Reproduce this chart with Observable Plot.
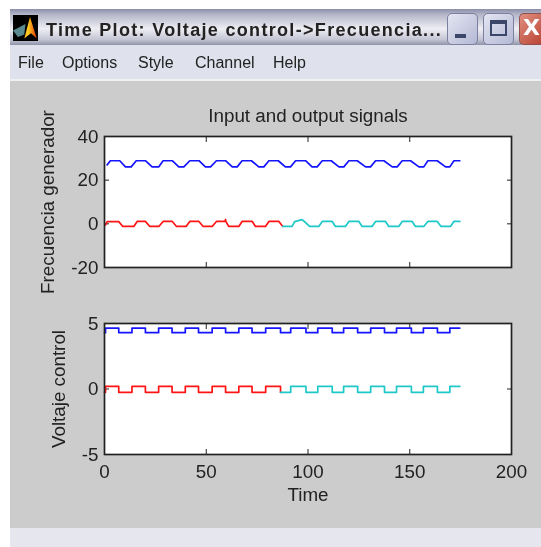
<!DOCTYPE html>
<html><head><meta charset="utf-8">
<script src="https://cdn.jsdelivr.net/npm/d3@7"></script>
<script src="https://cdn.jsdelivr.net/npm/@observablehq/plot@0.6"></script>
<style>
html,body{margin:0;padding:0;background:#fff;width:541px;height:547px;overflow:hidden}
#win{position:absolute;left:10px;top:0;width:531px;height:547px;overflow:hidden;filter:blur(.35px)}
#bar{position:absolute;left:0;top:9px;width:531px;height:36px;background:linear-gradient(#8a8ea8 0,#b4b6c8 15%,#eeeef3 55%,#c4c5d4 85%,#8f93a8 100%)}
#ttl{position:absolute;left:36px;top:11px;font:bold 18px "Liberation Sans",sans-serif;color:#222;white-space:nowrap;letter-spacing:1.32px}
#ico{position:absolute;left:3px;top:6px;width:25px;height:26px;background:#000;overflow:hidden}
#ico i{position:absolute;left:0;top:0;width:25px;height:26px;background:linear-gradient(90deg,#e03010,#ffd020 60%,#e02000);clip-path:polygon(45% 90%,68% 8%,95% 90%,72% 70%)}
#ico b{position:absolute;left:0;top:0;width:25px;height:26px;background:#5a8a90;clip-path:polygon(0 60%,50% 35%,45% 75%,20% 85%)}
.btn{position:absolute;top:13px;width:31px;height:32px;box-sizing:border-box;border:1.5px solid #7c80a0;border-radius:5px;background:linear-gradient(135deg,#e4e6f2,#b4b8d4)}
#min{left:437px}#max{left:473px}#cls{left:509px;width:26px;border-right:0;border-radius:5px 0 0 5px;background:linear-gradient(135deg,#e09080,#b84030);border-color:#905050;color:#fff;font:bold 22px "DejaVu Sans",sans-serif;line-height:28px;padding-left:3px;overflow:hidden}
#min:after{content:"";position:absolute;left:7px;bottom:6px;width:11px;height:4px;background:#3c4668}
#max:after{content:"";position:absolute;left:6px;top:6px;width:17px;height:16px;box-sizing:border-box;border:2px solid #3c4668;border-top-width:4px}
#menu{position:absolute;left:0;top:45px;width:531px;height:34px;background:#dfe2ec;border-bottom:2px solid #f0f0f4;font:16px "Liberation Sans",sans-serif;color:#222}
#menu span{position:absolute;top:8.5px}
#fig{position:absolute;left:0;top:81px;width:531px;height:447px;background:#ccc}
#low{position:absolute;left:0;top:528px;width:531px;height:19px;background:#e6e6ee}
</style></head><body>
<div id="win">
  <div id="bar">
    <div id="ico"><i></i><b></b></div>
    <div id="ttl">Time Plot: Voltaje control-&gt;Frecuencia...</div>
  </div>
  <div class="btn" id="min"></div><div class="btn" id="max"></div><div class="btn" id="cls">X</div>
  <div id="menu"><span style="left:8px">File</span><span style="left:52px">Options</span><span style="left:128px">Style</span><span style="left:185px">Channel</span><span style="left:263px">Help</span></div>
  <div id="fig"></div>
  <div id="low"></div>
</div>
<script>
const plotTitle = "Input and output signals";
const yLabelTop = "Frecuencia generador";
const yLabelBottom = "Voltaje control";
const xLabel = "Time";
const xTicks = [0, 50, 100, 150, 200];
const yTicksTop = [-20, 0, 20, 40];
const yTicksBottom = [-5, 0, 5];

// Top plot, output signal: input section then validation section
const outFitT = [0.5,1.3,7.0,9.0,14.4,16.05,20.1,22.3,26.7,28.8,33.3,35.4,40.1,41.9,46.4,48.5,52.9,55,59.2,59.5,59.6,61.1,66,67.6,72.6,74.2,79.1,80.8,85.7,87.6];
const outFitV = [-0.5,1,1,-1.2,-1.2,1.1,1.1,-1.2,-1.2,1.1,1.1,-1.2,-1.2,1.1,1.1,-1.2,-1.2,1.1,1.1,2,1.1,-1.2,-1.2,1.1,1.1,-1.2,-1.2,1.1,1.1,-1.2];
const outValT = [87.6,92.2,93.4,97.1,98.8,100.8,105.3,107,111.9,113.5,118.4,120.1,125,126.6,131.5,133.2,138.1,139.7,144.6,146.3,151.2,152.8,156.9,158.9,163.5,165.4,170,171.7,174.6];
const outValV = [-1.2,-1.2,1,1.9,0.6,-1.2,-1.2,1.1,1.1,-1.2,-1.2,1.1,1.1,-1.2,-1.2,1.1,1.1,-1.2,-1.2,1.1,1.1,-1.2,-1.2,1.1,1.1,-1.2,-1.2,1.1,1.1];
// Top plot, blue trace
const genT = [1.3,2.9,7.5,10.3,13.1,15.6,20.1,23.4,26.7,28.8,33.3,36.5,39,41.9,46.4,49.6,52.1,55,59.5,62.8,65.2,67.6,72.2,75.8,78.3,80.8,85.4,88.9,91.4,93.9,98.8,102,104.5,107,111.4,115.2,117.6,120.1,124.2,128.3,130.7,133.2,137.3,141.4,143.8,146.3,150.4,154.5,156.9,158.9,163.5,167.6,169.7,171.7,174.6];
const genV = [27,28.9,28.9,26.1,26.1,28.9,28.9,26.1,26.1,28.9,28.9,26.1,26.1,28.9,28.9,26.1,26.1,28.9,28.9,26.1,26.1,28.9,28.9,26.1,26.1,28.9,28.9,26.1,26.1,28.9,28.9,26.1,26.1,28.9,28.9,26.1,26.1,28.9,28.9,26.1,26.1,28.9,28.9,26.1,26.1,28.9,28.9,26.1,26.1,28.9,28.9,26.1,26.1,28.9,28.9];

// Bottom plot: square wave switching times
const inFitT = [0,0.5,7,13.5,20.1,26.6,33.2,39.7,46.2,52.9,59.5,66,72.5,79.2,86.5];
const inFitV = [-0.25,0.2,-0.25,0.2,-0.25,0.2,-0.25,0.2,-0.25,0.2,-0.25,0.2,-0.25,0.2,-0.25];
const inValT = [86.5,91.5,99,104.8,111.9,117.5,124.4,130.8,137.6,143.5,150.8,156.7,163.6,169.7,174.6];
const inValV = [-0.25,0.2,-0.25,0.2,-0.25,0.2,-0.25,0.2,-0.25,0.2,-0.25,0.2,-0.25,0.2,0.2];
const ctlT = [0,0.5,7,13.5,20.1,26.6,33.2,39.7,46.2,52.9,59.5,66,72.5,79.2,86.5,91.5,99,104.8,111.9,117.5,124.4,130.8,137.6,143.5,150.8,156.7,163.6,169.7,174.6];
const ctlV = [4.3,4.65,4.3,4.65,4.3,4.65,4.3,4.65,4.3,4.65,4.3,4.65,4.3,4.65,4.3,4.65,4.3,4.65,4.3,4.65,4.3,4.65,4.3,4.65,4.3,4.65,4.3,4.65,4.65];

const BLUE = "#1414ff", RED = "#ff1414", CYAN = "#1fc8c8";
const FONT = '"Liberation Sans", Arial, sans-serif';
const zip = (t, v) => t.map((x, i) => ({x, y: v[i]}));

function chart({top, height, marginTop, marginBottom, domain, yTicks, yLabel, yOffset, traces, showX, title}) {
  const noLabel = () => "";
  const marks = [
    Plot.frame({fill: "#fff"}),
    Plot.axisX({anchor: "top", ticks: xTicks, tickSize: -5, tickFormat: noLabel, label: title ?? null,
      labelAnchor: "center", labelArrow: "none", labelOffset: 28, stroke: "#222"}),
    Plot.axisX({anchor: "bottom", ticks: xTicks, tickSize: -5, tickFormat: noLabel, label: null, stroke: "#222"}),
    Plot.axisY({anchor: "right", ticks: yTicks, tickSize: -5, tickFormat: noLabel, label: null, stroke: "#222"}),
    Plot.axisY({anchor: "left", ticks: yTicks, tickSize: -5, tickFormat: noLabel, label: null, stroke: "#222"}),
    Plot.axisY({anchor: "left", ticks: yTicks, tickSize: 0, tickPadding: 6, tickFormat: d => String(d),
      label: yLabel, labelAnchor: "center", labelArrow: "none", labelOffset: yOffset}),
    ...(showX ? [Plot.axisX({anchor: "bottom", ticks: xTicks, tickSize: 0, tickPadding: 10, tickFormat: d => String(d),
      label: xLabel, labelAnchor: "center", labelArrow: "none", labelOffset: 46})] : []),
    ...traces.map(([t, v, color, curve]) => Plot.line(zip(t, v), {x: "x", y: "y", stroke: color, strokeWidth: 1.7, curve: curve ?? "linear"})),
    Plot.frame({stroke: "#222", strokeWidth: 1.7})
  ];
  const svg = Plot.plot({
    width: 531, height, marginLeft: 94, marginRight: 30, marginTop, marginBottom,
    x: {domain: [0, 200]},
    y: {domain},
    style: {background: "transparent", fontFamily: FONT, fontSize: "18.8px", color: "#222", overflow: "visible"},
    marks
  });
  svg.style.position = "absolute";
  svg.style.top = top + "px";
  svg.style.left = "0";
  document.getElementById("fig").appendChild(svg);
}

chart({top: 0, height: 199, marginTop: 55, marginBottom: 13, domain: [-20, 40], yTicks: yTicksTop,
  yLabel: yLabelTop, yOffset: 64, title: plotTitle, showX: false,
  traces: [[genT, genV, BLUE], [outFitT, outFitV, RED], [outValT, outValV, CYAN]]});
chart({top: 199, height: 248, marginTop: 43, marginBottom: 74, domain: [-5, 5], yTicks: yTicksBottom,
  yLabel: yLabelBottom, yOffset: 53, showX: true,
  traces: [[ctlT, ctlV, BLUE, "step-after"], [inFitT, inFitV, RED, "step-after"], [inValT, inValV, CYAN, "step-after"]]});
</script>
</body></html>
